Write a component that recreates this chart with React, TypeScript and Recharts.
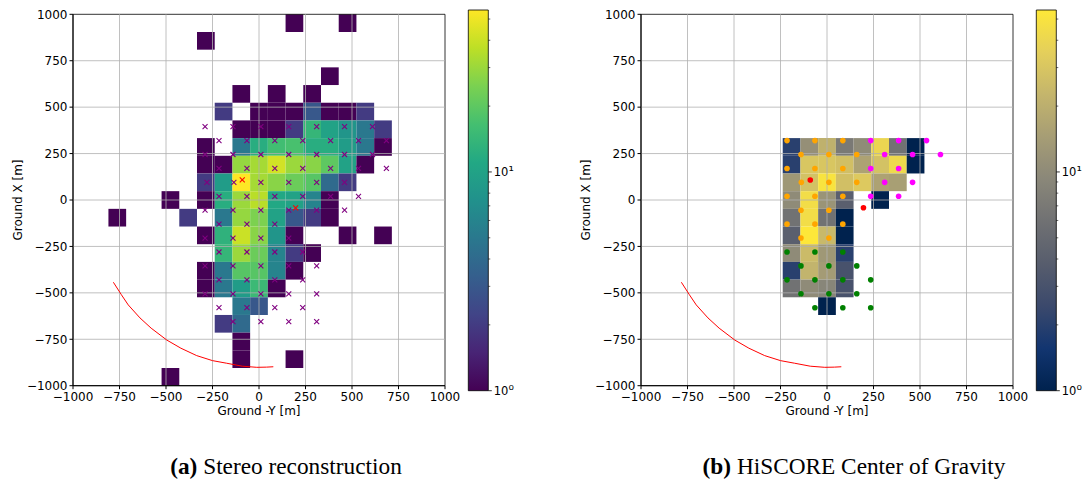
import React from 'react';
import { ScatterChart, Scatter, XAxis, YAxis, ReferenceArea, ReferenceLine } from 'recharts';

// ---------------- data ----------------
const axisTicks = [-1000, -750, -500, -250, 0, 250, 500, 750, 1000];
const gridTicks = [-750, -500, -250, 0, 250, 500, 750];
const axisRange: [number, number] = [-1000, 1000];
const binCount = 21;
const colorMax = 55;
const colorbarTicks = [1, 2, 3, 4, 5, 6, 7, 8, 9, 10, 20, 30, 40, 50];

// [column index (from -1000), row index (from +1000 downward), count]
const stereoCells: [number, number, number][] = [
  [12, 0, 1], [15, 0, 1],
  [7, 1, 1],
  [14, 3, 1],
  [9, 4, 1], [11, 4, 1], [13, 4, 1],
  [8, 5, 2], [10, 5, 1], [11, 5, 1], [12, 5, 1], [13, 5, 3], [14, 5, 1], [15, 5, 1], [16, 5, 2],
  [9, 6, 1], [10, 6, 1], [11, 6, 1], [12, 6, 2], [13, 6, 14], [14, 6, 10], [15, 6, 8], [16, 6, 5], [17, 6, 2],
  [7, 7, 1], [9, 7, 5], [10, 7, 12], [11, 7, 16], [12, 7, 17], [13, 7, 12], [14, 7, 12], [15, 7, 9], [16, 7, 5], [17, 7, 1],
  [7, 8, 1], [8, 8, 1], [9, 8, 29], [10, 8, 32], [11, 8, 42], [12, 8, 30], [13, 8, 27], [14, 8, 20], [15, 8, 10], [16, 8, 1],
  [7, 9, 2], [8, 9, 9], [9, 9, 55], [10, 9, 32], [11, 9, 27], [12, 9, 22], [13, 9, 19], [14, 9, 4], [15, 9, 2],
  [5, 10, 1], [7, 10, 1], [8, 10, 12], [9, 10, 30], [10, 10, 36], [11, 10, 11], [12, 10, 10], [13, 10, 6], [14, 10, 1],
  [2, 11, 1], [6, 11, 2], [8, 11, 5], [9, 11, 29], [10, 11, 25], [11, 11, 10], [12, 11, 3], [13, 11, 2], [14, 11, 1],
  [7, 12, 1], [8, 12, 13], [9, 12, 40], [10, 12, 27], [11, 12, 8], [12, 12, 1], [15, 12, 1], [17, 12, 1],
  [8, 13, 14], [9, 13, 30], [10, 13, 22], [11, 13, 6], [12, 13, 2], [13, 13, 1],
  [7, 14, 1], [8, 14, 5], [9, 14, 19], [10, 14, 19], [11, 14, 6], [12, 14, 1],
  [7, 15, 1], [8, 15, 5], [9, 15, 9], [10, 15, 15], [11, 15, 1],
  [9, 16, 5], [10, 16, 3],
  [8, 17, 2], [9, 17, 4],
  [9, 18, 1],
  [9, 19, 1], [12, 19, 1],
  [5, 20, 1],
];

const cogCells: [number, number, number][] = [
  [8, 7, 2], [9, 7, 11], [10, 7, 21], [11, 7, 7], [12, 7, 10], [13, 7, 40], [14, 7, 6], [15, 7, 1],
  [8, 8, 2], [9, 8, 30], [10, 8, 30], [11, 8, 27], [12, 8, 16], [13, 8, 28], [14, 8, 42], [15, 8, 1],
  [8, 9, 13], [9, 9, 28], [10, 9, 50], [11, 9, 27], [12, 9, 32], [13, 9, 16], [14, 9, 15],
  [8, 10, 10], [9, 10, 45], [10, 10, 12], [11, 10, 4], [13, 10, 1],
  [8, 11, 6], [9, 11, 45], [10, 11, 6], [11, 11, 1],
  [8, 12, 4], [9, 12, 54], [10, 12, 24], [11, 12, 1],
  [8, 13, 10], [9, 13, 25], [10, 13, 13], [11, 13, 2],
  [8, 14, 2], [9, 14, 22], [10, 14, 14], [11, 14, 3],
  [8, 15, 6], [9, 15, 10], [10, 15, 9], [11, 15, 3],
  [10, 16, 1],
];

// detector positions: [ground X, list of ground -Y]
const stereoCrossRows: [number, number[]][] = [
  [395, [-290, -140, 10, 160, 310, 460, 610]],
  [320, [-215, -65, 85, 235, 385, 535, 685]],
  [245, [-290, -140, 10, 160, 310, 460, 610]],
  [170, [-215, -65, 85, 235, 385, 535, 685]],
  [95, [-280, -135, 10, 160, 310, 460]],
  [20, [-215, -65, 85, 235, 385, 535]],
  [-55, [-290, -140, 10, 160, 310, 460]],
  [-130, [-215, -65, 85]],
  [-205, [-290, -140, 10, 160]],
  [-280, [-215, -65, 85, 235]],
  [-355, [-290, -140, 10, 160, 310]],
  [-430, [-215, -65, 85, 235]],
  [-505, [-290, -140, 10, 160, 310]],
  [-580, [-215, -65, 85, 235]],
  [-655, [-140, 10, 160, 310]],
];
const stereoRedCrosses: [number, number][] = [[-90, 108], [197, -43]];

const cogOrangeRows: [number, number[]][] = [
  [320, [-215, -65, 85]],
  [245, [-140, 10, 160]],
  [170, [-215, -65, 85]],
  [95, [-138, 10, 160]],
  [20, [-215, -65, 85]],
  [-55, [-140, 10]],
  [-130, [-215, -65, 85]],
  [-205, [-140, 10]],
];
const cogMagentaRows: [number, number[]][] = [
  [320, [235, 385, 535]],
  [245, [310, 460, 610]],
  [170, [235, 385]],
  [95, [310, 460]],
  [20, [235, 385]],
];
const cogGreenRows: [number, number[]][] = [
  [-280, [-215, -65, 85]],
  [-355, [-140, 10, 160]],
  [-430, [-215, -65, 85, 235]],
  [-505, [-140, 10, 160]],
  [-580, [-65, 85, 235]],
];
const cogRedDots: [number, number][] = [[-90, 108], [196, -42]];

// shower-axis arc (ground -Y, ground X)
const showerArc: [number, number][] = [
  [-783, -443], [-740, -510], [-703, -565], [-640, -635], [-580, -690], [-496, -754],
  [-420, -798], [-335, -838], [-250, -865], [-174, -879], [-90, -895], [-12, -901],
  [40, -900], [77, -898],
];

const viridisStops = ['#440154', '#482475', '#414487', '#355f8d', '#2a788e', '#21918c', '#22a884', '#44bf70', '#7ad151', '#bddf26', '#fde725'];
const cividisStops = ['#00224e', '#123570', '#3b496c', '#575d6d', '#707173', '#8a8779', '#a69d75', '#c4b56c', '#e4cf5b', '#fee838'];

// ---------------- helpers ----------------
const FONT = '"DejaVu Sans", sans-serif';
const binWidth = (axisRange[1] - axisRange[0]) / binCount;

function hexRgb(h: string) {
  return [parseInt(h.slice(1, 3), 16), parseInt(h.slice(3, 5), 16), parseInt(h.slice(5, 7), 16)];
}
function cmap(stops: string[], f: number) {
  const t = Math.max(0, Math.min(1, f));
  const n = stops.length - 1;
  const i = Math.min(n - 1, Math.floor(t * n));
  const u = t * n - i;
  const a = hexRgb(stops[i]);
  const b = hexRgb(stops[i + 1]);
  const c = a.map((v, k) => Math.round(v + (b[k] - v) * u));
  return `rgb(${c[0]},${c[1]},${c[2]})`;
}
const colorOf = (stops: string[], v: number) => cmap(stops, Math.log(v) / Math.log(colorMax));
const fmtTick = (v: number) => (v < 0 ? '\u2212' + Math.abs(v) : String(v));
const rowsToPoints = (rows: [number, number[]][]) => rows.flatMap(([y, xs]) => xs.map((x) => ({ x, y })));
const pairsToPoints = (p: [number, number][]) => p.map(([x, y]) => ({ x, y }));

const CrossShape = (props: any) => {
  const { cx, cy, fill } = props;
  if (cx == null || cy == null) return <g />;
  const s = 2.5;
  return (
    <g>
      <line x1={cx - s} y1={cy - s} x2={cx + s} y2={cy + s} stroke={fill} strokeWidth={1.1} />
      <line x1={cx - s} y1={cy + s} x2={cx + s} y2={cy - s} stroke={fill} strokeWidth={1.1} />
    </g>
  );
};
const DotShape = (props: any) => {
  const { cx, cy, fill } = props;
  if (cx == null || cy == null) return <g />;
  return <circle cx={cx} cy={cy} r={2.8} fill={fill} />;
};
const NoShape = () => <g />;

const XLabel = () => (
  <text x={259} y={415.2} textAnchor="middle" fontSize={12} fontFamily={FONT} fill="#000">
    Ground -Y [m]
  </text>
);
const YLabel = () => (
  <text x={18} y={200} transform="rotate(-90, 18, 200)" textAnchor="middle" dy="0.36em" fontSize={12} fontFamily={FONT} fill="#000">
    Ground X [m]
  </text>
);

type Overlay = { points: { x: number; y: number }[]; color: string; kind: 'cross' | 'dot' };

function HeatPanel({ left, cells, stops, overlays }: { left: number; cells: [number, number, number][]; stops: string[]; overlays: Overlay[] }) {
  const tickStyle = { fontSize: 12, fill: '#000', fontFamily: FONT };
  return (
    <div style={{ position: 'absolute', left, top: 0 }}>
      <ScatterChart width={460} height={440} margin={{ top: 14.3, right: 15, bottom: 14.3, left: 13 }}>
        <XAxis
          type="number" dataKey="x" domain={axisRange} ticks={axisTicks} interval={0} allowDataOverflow
          tickFormatter={fmtTick} tick={tickStyle} tickSize={3.5} tickMargin={2.8} stroke="#000" height={40}
          label={<XLabel />}
        />
        <YAxis
          type="number" dataKey="y" domain={axisRange} ticks={axisTicks} interval={0} allowDataOverflow
          tickFormatter={fmtTick} tick={tickStyle} tickSize={3.5} tickMargin={2} stroke="#000" width={60}
          label={<YLabel />}
        />
        {cells.map(([c, r, v]) => (
          <ReferenceArea
            key={`c-${c}-${r}`}
            x1={axisRange[0] + c * binWidth}
            x2={axisRange[0] + (c + 1) * binWidth}
            y1={axisRange[1] - (r + 1) * binWidth}
            y2={axisRange[1] - r * binWidth}
            fill={colorOf(stops, v)}
            fillOpacity={1}
            stroke="none"
            ifOverflow="visible"
          />
        ))}
        {gridTicks.map((t) => (
          <ReferenceLine key={`gx${t}`} x={t} stroke="#b0b0b0" strokeWidth={0.8} />
        ))}
        {gridTicks.map((t) => (
          <ReferenceLine key={`gy${t}`} y={t} stroke="#b0b0b0" strokeWidth={0.8} />
        ))}
        <ReferenceArea x1={axisRange[0]} x2={axisRange[1]} y1={axisRange[0]} y2={axisRange[1]} fill="none" fillOpacity={0} stroke="#000" strokeWidth={0.8} ifOverflow="visible" />
        {overlays.map((o, i) => (
          <Scatter
            key={`o${i}`}
            data={o.points}
            fill={o.color}
            shape={o.kind === 'cross' ? CrossShape : DotShape}
            isAnimationActive={false}
          />
        ))}
        <Scatter
          data={pairsToPoints(showerArc)}
          line={{ stroke: '#ff0000', strokeWidth: 1 }}
          lineType="joint"
          shape={NoShape}
          isAnimationActive={false}
        />
      </ScatterChart>
    </div>
  );
}

const CbTick = (props: any) => {
  const { x, y, payload } = props;
  const v = payload.value;
  const major = v === 1 || v === 10;
  return (
    <g>
      <line x1={x} x2={x + (major ? 3.5 : 2)} y1={y} y2={y} stroke="#000" strokeWidth={major ? 0.8 : 0.6} />
      {major && (
        <text x={x + 5.5} y={y} dy="0.36em" fontSize={11.5} fontFamily={FONT} fill="#000">
          10<tspan fontSize={13.5}>{v === 1 ? '\u2070' : '\u00b9'}</tspan>
        </text>
      )}
    </g>
  );
};

function Colorbar({ left, stops, id }: { left: number; stops: string[]; id: string }) {
  return (
    <div style={{ position: 'absolute', left, top: 0 }}>
      <ScatterChart width={80} height={420} margin={{ top: 10, right: 11.7, bottom: 29.3, left: 8.3 }}>
        <defs>
          <linearGradient id={id} x1="0" y1="1" x2="0" y2="0">
            {stops.map((c, i) => (
              <stop key={i} offset={i / (stops.length - 1)} stopColor={c} />
            ))}
          </linearGradient>
        </defs>
        <XAxis type="number" dataKey="x" domain={[0, 1]} hide allowDataOverflow />
        <YAxis
          type="number" dataKey="y" orientation="right" scale="log" domain={[1, colorMax]} ticks={colorbarTicks}
          interval={0} allowDataOverflow width={40} axisLine={false} tickLine={false} tickSize={0} tickMargin={0}
          tick={<CbTick />}
        />
        <ReferenceArea x1={0} x2={1} y1={1} y2={colorMax} fill={`url(#${id})`} fillOpacity={1} stroke="#000" strokeWidth={0.8} ifOverflow="visible" />
        <Scatter data={[{ x: 0.5, y: 1 }, { x: 0.5, y: colorMax }]} shape={NoShape} isAnimationActive={false} />
      </ScatterChart>
    </div>
  );
}

const captionStyle: React.CSSProperties = {
  position: 'absolute',
  top: 454.2,
  width: 420,
  textAlign: 'center',
  fontSize: 23.3,
  lineHeight: '24px',
  fontFamily: '"Liberation Serif", "Times New Roman", serif',
  color: '#000',
  whiteSpace: 'nowrap',
};

export default function App() {
  const stereoOverlays: Overlay[] = [
    { points: rowsToPoints(stereoCrossRows), color: '#800080', kind: 'cross' },
    { points: pairsToPoints(stereoRedCrosses), color: '#ff0000', kind: 'cross' },
  ];
  const cogOverlays: Overlay[] = [
    { points: rowsToPoints(cogOrangeRows), color: '#ffa500', kind: 'dot' },
    { points: rowsToPoints(cogMagentaRows), color: '#ff00ff', kind: 'dot' },
    { points: rowsToPoints(cogGreenRows), color: '#008000', kind: 'dot' },
    { points: pairsToPoints(cogRedDots), color: '#ff0000', kind: 'dot' },
  ];
  return (
    <div style={{ position: 'absolute', left: 0, top: 0, width: 1085, height: 481, overflow: 'hidden', background: '#fff' }}>
      <HeatPanel left={0} cells={stereoCells} stops={viridisStops} overlays={stereoOverlays} />
      <Colorbar left={460} stops={viridisStops} id="cb-viridis" />
      <HeatPanel left={568} cells={cogCells} stops={cividisStops} overlays={cogOverlays} />
      <Colorbar left={1027.7} stops={cividisStops} id="cb-cividis" />
      <div style={{ ...captionStyle, left: 286 - 210 }}>
        <b>(a)</b> Stereo reconstruction
      </div>
      <div style={{ ...captionStyle, left: 854 - 210 }}>
        <b>(b)</b> HiSCORE Center of Gravity
      </div>
    </div>
  );
}
